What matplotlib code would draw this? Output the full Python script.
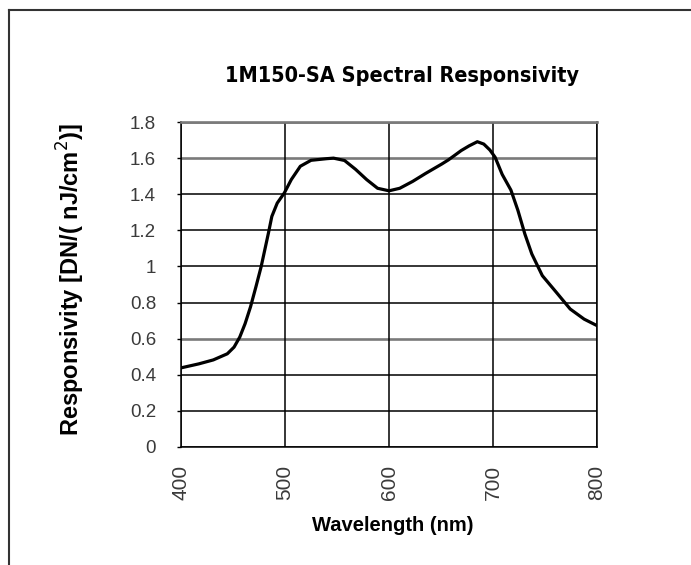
import matplotlib
matplotlib.use('Agg')
import matplotlib.pyplot as plt
from matplotlib.lines import Line2D

# spectral responsivity
wavelength = [400, 417, 431, 444.5, 451, 456.5, 461.6, 466.8, 472, 477, 480.5, 484,
              487.3, 492.5, 499.3, 506, 514.7, 525, 540, 546.6, 557.2, 567.8, 578.5,
              589, 600, 610.3, 622.7, 635.1, 650.6, 657, 663, 669.4, 677, 684.9,
              691.1, 697, 702, 708.8, 717.2, 723.9, 730.6, 737.3, 747.4, 760.8,
              774.2, 787.6, 800]
response = [0.438, 0.46, 0.482, 0.516, 0.553, 0.609, 0.683, 0.776, 0.887, 0.998, 1.091,
            1.184, 1.277, 1.351, 1.407, 1.481, 1.555, 1.588, 1.597, 1.60, 1.587, 1.538,
            1.481, 1.433, 1.419, 1.433, 1.471, 1.515, 1.567, 1.59, 1.615, 1.642, 1.668,
            1.691, 1.678, 1.645, 1.605, 1.51, 1.423, 1.311, 1.18, 1.069, 0.949, 0.857,
            0.764, 0.708, 0.672]
xticks = [400, 500, 600, 700, 800]
yticks = [0, 0.2, 0.4, 0.6, 0.8, 1, 1.2, 1.4, 1.6, 1.8]
ylabels = ['0', '0.2', '0.4', '0.6', '0.8', '1', '1.2', '1.4', '1.6', '1.8']

plt.rcParams['font.family'] = ['Liberation Sans', 'DejaVu Sans']

fig = plt.figure(figsize=(6.91, 5.65), dpi=100)
ax = fig.add_axes([0.262, 0.209, 0.602, 0.575])

# horizontal grid, a few of the lines look grey in the scan
grey = {1.8, 1.6, 0.6}
for t in yticks:
    if t in grey:
        ax.axhline(t, color='#7a7a7a', lw=1.9, zorder=1)
    else:
        ax.axhline(t, color='black', lw=1.1, zorder=1)
for t in xticks:
    ax.axvline(t, color='black', lw=1.1, zorder=1)

ax.plot(wavelength, response, color='black', lw=2.3, zorder=3,
        solid_joinstyle='round')

ax.set_xlim(400, 800)
ax.set_ylim(0, 1.8)
ax.set_xticks(xticks)
ax.set_xticklabels([str(t) for t in xticks], rotation=90)
ax.set_yticks(yticks)
ax.set_yticklabels(ylabels)
ax.tick_params(axis='x', length=0, pad=13, labelsize=15, labelcolor='#3a3a3a')
ax.tick_params(axis='y', length=3, width=1, pad=15, labelsize=13.5, labelcolor='#3a3a3a')
for s in ax.spines.values():
    s.set_linewidth(1.1)
ax.spines['top'].set_color('#7a7a7a')
ax.spines['top'].set_linewidth(1.9)

ax.set_xlabel('Wavelength (nm)', fontweight='bold', fontsize=14.5)
ax.xaxis.set_label_coords(0.508, -0.213)
ax.set_ylabel('Responsivity [DN/( nJ/cm$^2$)]', fontweight='bold', fontsize=17)
ax.yaxis.set_label_coords(-0.226, 0.514)
fig.text(0.582, 0.866, '1M150-SA Spectral Responsivity', ha='center', va='center',
         fontsize=15.5, fontweight='heavy', family=['DejaVu Sans'], stretch='condensed')

# page frame (top and left edges only)
fig.add_artist(Line2D([0.013, 1.0], [0.982, 0.982], color='#333333', lw=1.5))
fig.add_artist(Line2D([0.013, 0.013], [0.0, 0.982], color='#333333', lw=1.5))

fig.savefig('out.png', dpi=100)
